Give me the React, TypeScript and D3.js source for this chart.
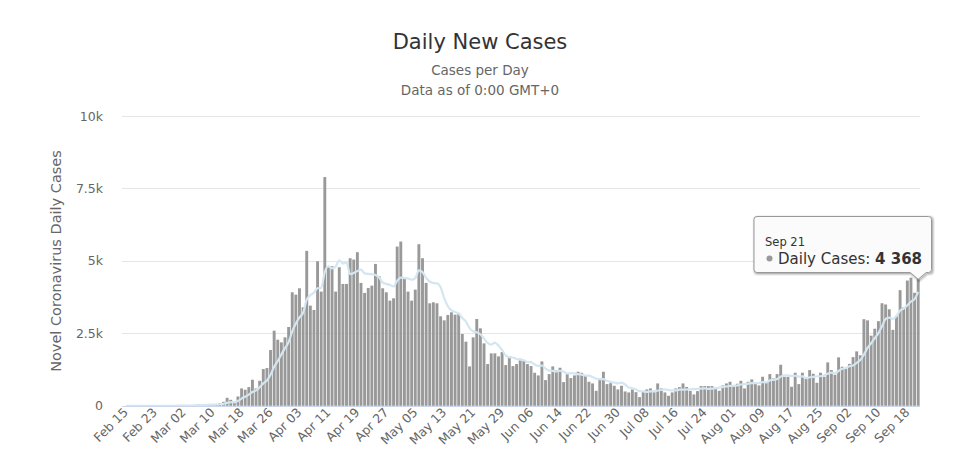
import React from "react";
import * as d3 from "d3";

// ---- data ----
const startDate = "2020-02-15";
const dailyCases: number[] = [
  0, 0, 0, 0, 0, 0, 0, 0, 0, 4, 0, 0, 2, 5, 3,
  12, 4, 11, 30, 26, 43, 40, 60, 40, 55,
  50, 92, 138, 276, 207, 92, 323, 599, 553, 645,
  899, 599, 864, 1267, 1302, 1924, 2592, 2281, 2189, 2362,
  2719, 3917, 3836, 4055, 3399, 5346, 3456, 3306, 4988, 3940,
  7892, 4781, 4816, 3940, 4781, 4205, 4205, 5092, 5046, 5300,
  4240, 3894, 4067, 4147, 4896, 4470, 4055, 3917, 3629, 3710,
  5495, 5668, 4378, 3940, 3629, 4009, 5576, 5092, 4240, 3537,
  3571, 3537, 3088, 2949, 3134, 3226, 3145, 3203, 2477, 2212,
  1359, 2362, 2995, 2673, 2154, 1440, 1809, 1809, 1705, 1855,
  1405, 1717, 1371, 1440, 1624, 1578, 1440, 1371, 1140, 1048,
  1532, 887, 1094, 1359, 1233, 1313, 818, 1094, 956, 1048,
  1175, 1140, 1048, 829, 772, 518, 945, 1175, 749, 783,
  691, 565, 691, 495, 461, 565, 472, 300, 507, 565,
  599, 472, 772, 599, 461, 346, 461, 599, 645, 772,
  650, 512, 392, 507, 680, 680, 680, 680, 634, 518,
  703, 772, 829, 691, 760, 864, 599, 829, 910, 818,
  703, 1002, 795, 1094, 945, 1094, 1417, 1002, 1002, 657,
  1141, 749, 1141, 968, 1233, 1106, 795, 1141, 1002, 1498,
  1233, 1071, 1671, 1348, 1290, 1445, 1680, 1878, 1745, 2988,
  2948, 2420, 2659, 2919, 3539, 3497, 3330, 2621, 3105, 3991,
  3395, 4322, 4422, 3899, 4368,
];
const xTickLabels = [
  "Feb 15", "Feb 23", "Mar 02", "Mar 10", "Mar 18", "Mar 26", "Apr 03",
  "Apr 11", "Apr 19", "Apr 27", "May 05", "May 13", "May 21", "May 29",
  "Jun 06", "Jun 14", "Jun 22", "Jun 30", "Jul 08", "Jul 16", "Jul 24",
  "Aug 01", "Aug 09", "Aug 17", "Aug 25", "Sep 02", "Sep 10", "Sep 18",
];
const yTickValues = [0, 2500, 5000, 7500, 10000];
const yTickLabels = ["0", "2.5k", "5k", "7.5k", "10k"];
const movingAverageWindow = 7;

const FONT = "'DejaVu Sans', sans-serif";

export default function App() {
  const n = dailyCases.length;
  const start = new Date(startDate + "T00:00:00Z");
  const fmt = d3.utcFormat("%b %d");
  const dates = d3.range(n).map((i) => d3.utcDay.offset(start, i));
  const dateLabels = dates.map((d) => fmt(d));

  const x = d3
    .scaleBand<number>()
    .domain(d3.range(n))
    .range([124, 920])
    .paddingInner(0.2)
    .paddingOuter(0.1);
  const y = d3.scaleLinear().domain([0, 10000]).range([405.8, 116]);
  const bw = x.bandwidth();
  const cx = (i: number) => (x(i) as number) + bw / 2;

  // trailing 7-day average of the daily values (the light blue line)
  const avg = dailyCases.map((_, i) =>
    d3.mean(dailyCases.slice(Math.max(0, i - movingAverageWindow + 1), i + 1)) as number
  );
  const line = d3
    .line<number>()
    .x((_, i) => cx(i))
    .y((v) => y(v))
    .curve(d3.curveMonotoneX);

  const last = n - 1;
  const ax = cx(last);
  const ay = y(dailyCases[last]);
  const bx0 = 754, bx1 = 931.5, by0 = 216.5, by1 = 272.5, r = 3;
  const tipPath =
    `M${bx0 + r},${by0} L${bx1 - r},${by0} Q${bx1},${by0} ${bx1},${by0 + r} ` +
    `L${bx1},${by1 - r} Q${bx1},${by1} ${bx1 - r},${by1} L${ax + 8},${by1} ` +
    `L${ax},${ay} L${ax - 8},${by1} L${bx0 + r},${by1} Q${bx0},${by1} ${bx0},${by1 - r} ` +
    `L${bx0},${by0 + r} Q${bx0},${by0} ${bx0 + r},${by0} Z`;
  const valueText = d3.format(",")(dailyCases[last]).replace(/,/g, " ");

  return (
    <svg
      width={960}
      height={476}
      style={{ position: "absolute", left: 0, top: 0, background: "#fff" }}
      fontFamily={FONT}
    >
      <rect width={960} height={476} fill="#fff" />
      <text x={480} y={49} textAnchor="middle" fontSize={21} fill="#333">
        Daily New Cases
      </text>
      <text x={480} y={75} textAnchor="middle" fontSize={13.5} fill="#666">
        Cases per Day
      </text>
      <text x={480} y={95} textAnchor="middle" fontSize={13.5} fill="#666">
        Data as of 0:00 GMT+0
      </text>

      {/* grid */}
      {yTickValues.map((v, k) => (
        <g key={v}>
          {v > 0 && (
            <line x1={122} x2={920} y1={Math.round(y(v)) + 0.5} y2={Math.round(y(v)) + 0.5} stroke="#e6e6e6" />
          )}
          <text x={103} y={y(v) + 4.5} textAnchor="end" fontSize={12.5} fill="#666">
            {yTickLabels[k]}
          </text>
        </g>
      ))}
      <text
        transform={`translate(61,261) rotate(-90)`}
        textAnchor="middle"
        fontSize={14.5}
        fill="#666"
      >
        Novel Coronavirus Daily Cases
      </text>

      {/* bars */}
      {dailyCases.map((v, i) => (
        <rect key={i} x={x(i)} y={y(v)} width={bw} height={y(0) - y(v)} fill="#999" />
      ))}

      {/* moving average */}
      <path d={line(avg) as string} fill="none" stroke="#d3e6f1" strokeWidth={2.2} />

      {/* x axis line */}
      <line x1={122} x2={920} y1={406.5} y2={406.5} stroke="#ccd6eb" />

      {xTickLabels.map((lab) => {
        const i = dateLabels.indexOf(lab);
        const tx = cx(i) + 3;
        return (
          <text
            key={lab}
            transform={`translate(${tx},${413}) rotate(-45)`}
            textAnchor="end"
            fontSize={12.5}
            fill="#666"
          >
            {lab}
          </text>
        );
      })}

      {/* tooltip */}
      <g>
        <path d={tipPath} transform="translate(1,1)" fill="none" stroke="#000" strokeOpacity={0.05} strokeWidth={5} />
        <path d={tipPath} transform="translate(1,1)" fill="none" stroke="#000" strokeOpacity={0.1} strokeWidth={3} />
        <path d={tipPath} transform="translate(1,1)" fill="none" stroke="#000" strokeOpacity={0.15} strokeWidth={1} />
        <path d={tipPath} fill="#fbfbfb" stroke="#999" strokeWidth={1} />
        <text x={765} y={246} fontSize={11.5} fill="#333">
          {dateLabels[last]}
        </text>
        <circle cx={769.5} cy={258.5} r={3} fill="#999" />
        <text x={778} y={264} fontSize={15} fill="#333">
          Daily Cases: <tspan fontWeight="bold">{valueText}</tspan>
        </text>
      </g>
    </svg>
  );
}
